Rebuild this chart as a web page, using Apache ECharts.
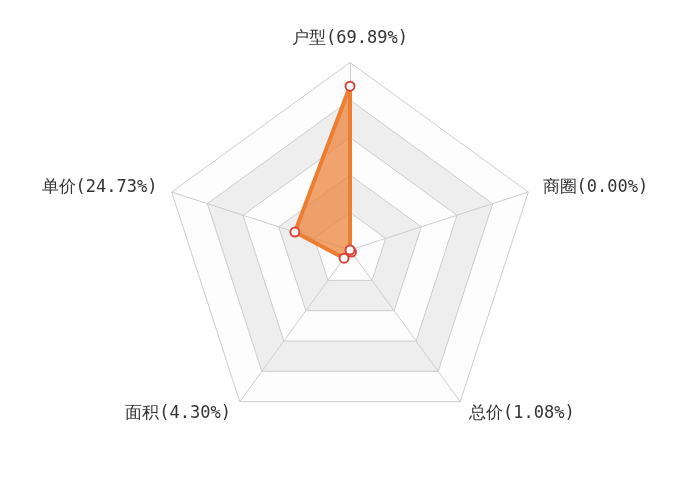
<!DOCTYPE html>
<html>
<head>
<meta charset="utf-8">
<script src="https://cdn.jsdelivr.net/npm/echarts@6/dist/echarts.min.js"></script>
<style>html,body{margin:0;padding:0;background:#fff}#c{width:700px;height:500px}</style>
</head>
<body>
<div id="c"></div>
<script>
// indicators in ECharts order (counter-clockwise from top)
var categories = ['户型', '单价', '面积', '总价', '商圈'];
var values = [69.89, 24.73, 4.30, 1.08, 0.00];
var axisMax = 80;

var chart = echarts.init(document.getElementById('c'));
chart.setOption({
  animation: false,
  radar: {
    center: ['50%', '50%'],
    radius: '75%',
    splitNumber: 5,
    indicator: categories.map(function (c, i) {
      return { name: c + '(' + values[i].toFixed(2) + '%)', max: axisMax };
    }),
    axisName: {
      color: '#333',
      fontSize: 17,
      fontFamily: 'monospace'
    },
    axisLine: { lineStyle: { color: '#ccc' } },
    splitLine: { lineStyle: { color: '#ccc' } },
    splitArea: { areaStyle: { color: ['rgba(250,250,250,0.3)', 'rgba(200,200,200,0.3)'] } }
  },
  series: [{
    type: 'radar',
    symbol: 'emptyCircle',
    symbolSize: 9,
    lineStyle: { color: '#ED7D31', width: 4 },
    itemStyle: { color: '#d9423a', borderWidth: 1 },
    areaStyle: { color: '#ED7D31', opacity: 0.7 },
    data: [{ value: values }]
  }]
});
</script>
</body>
</html>
